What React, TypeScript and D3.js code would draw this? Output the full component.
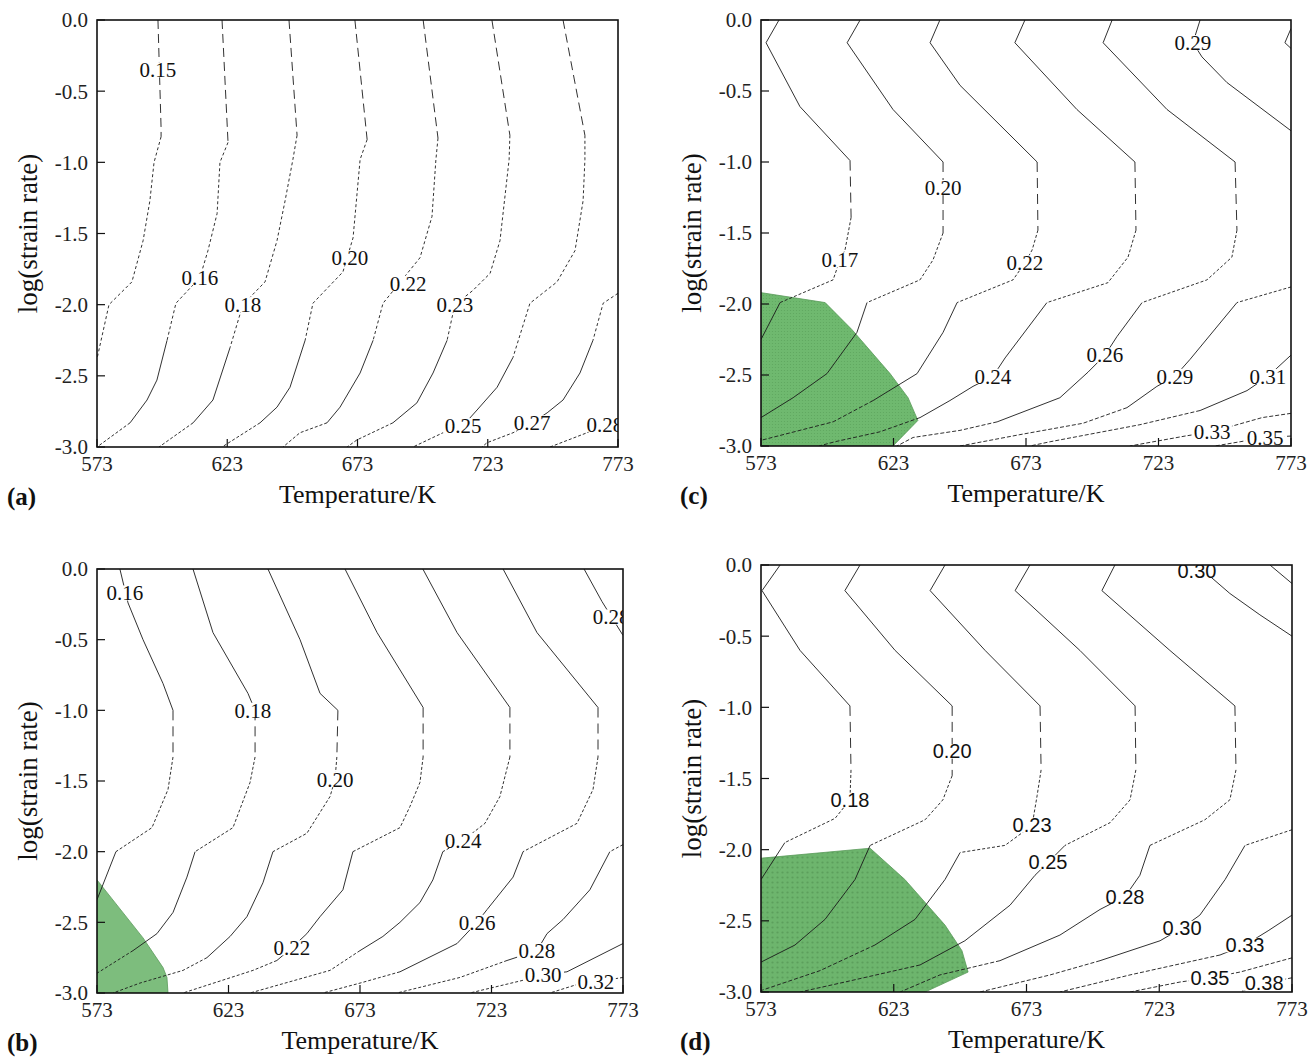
import React from 'react';
import * as d3 from 'd3';

type Pt = [number, number];
type Contour = { level: string; pts: Pt[]; at?: Pt };

// axes: temperature (K) and log(strain rate)
const TEMP_TICKS = [573, 623, 673, 723, 773];
const RATE_TICKS = [0, -0.5, -1, -1.5, -2, -2.5, -3];

// contour lines, [T, log(strain rate)]
const CONTOURS_A: Contour[] = [
  { level: '0.15', at: [596.4, -0.35], pts: [[596.4, 0], [597.6, -0.76], [597.6, -0.82], [594.9, -1.0], [593.3, -1.27], [590.7, -1.55], [586.4, -1.84], [577.6, -2.0], [573, -2.38]] },
  { level: '0.16', at: [612.5, -1.81], pts: [[621.0, 0], [623.3, -0.86], [620.2, -1.0], [619.1, -1.36], [615.6, -1.62], [612.5, -1.81], [603.3, -1.99], [599.9, -2.25], [596.0, -2.53], [592.2, -2.67], [585.7, -2.83], [573, -3.0]] },
  { level: '0.18', at: [629.0, -2.0], pts: [[646.7, 0], [649.8, -0.81], [648.2, -0.98], [645.2, -1.27], [642.1, -1.55], [637.5, -1.84], [629.0, -2.0], [624.1, -2.3], [617.5, -2.67], [609.9, -2.83], [596.8, -3.0]] },
  { level: '0.20', at: [670.1, -1.67], pts: [[672.0, 0], [676.7, -0.84], [674.0, -0.98], [671.3, -1.53], [667.4, -1.77], [655.9, -1.99], [652.9, -2.25], [647.1, -2.58], [642.1, -2.72], [635.6, -2.83], [621.0, -3.0]] },
  { level: '0.22', at: [692.4, -1.85], pts: [[698.2, 0], [703.9, -0.83], [703.1, -0.98], [701.6, -1.38], [697.0, -1.67], [682.8, -1.99], [679.0, -2.25], [674.0, -2.48], [666.3, -2.72], [661.3, -2.83], [650.9, -2.9], [644.4, -3.0]] },
  { level: '0.23', at: [710.4, -2.0], pts: [[724.6, 0], [731.5, -0.81], [731.2, -0.98], [727.7, -1.55], [723.9, -1.78], [717.3, -1.9], [710.4, -2.0], [709.3, -2.09], [707.4, -2.25], [702.0, -2.48], [695.8, -2.69], [686.6, -2.83], [672.8, -2.95], [669.0, -3.0]] },
  { level: '0.25', at: [713.5, -2.85], pts: [[751.9, 0], [760.3, -0.81], [760.3, -0.98], [759.6, -1.27], [756.5, -1.62], [749.6, -1.84], [739.2, -1.99], [732.7, -2.37], [726.6, -2.58], [718.9, -2.74], [713.5, -2.85], [705.8, -2.9], [694.3, -3.0]] },
  { level: '0.27', at: [740.0, -2.83], pts: [[773, -1.92], [767.3, -1.99], [763.4, -2.25], [758.4, -2.48], [751.9, -2.67], [745.8, -2.76], [740.0, -2.83], [732.7, -2.9], [722.7, -2.97], [720.8, -3.0]] },
  { level: '0.28', at: [768.0, -2.84], pts: [[773, -2.86], [766.9, -2.84], [761.1, -2.9], [746.9, -3.0]] },
];

const CONTOURS_B: Contour[] = [
  { level: '0.16', at: [583.6, -0.17], pts: [[581.7, 0], [584.8, -0.24], [590.5, -0.5], [598.1, -0.81], [601.9, -1.0], [601.9, -1.33], [600.0, -1.56], [593.9, -1.83], [580.2, -2.0], [573, -2.34]] },
  { level: '0.18', at: [632.3, -1.0], pts: [[609.5, 0], [617.1, -0.45], [630.4, -0.88], [633.1, -1.0], [633.1, -1.33], [631.2, -1.51], [624.7, -1.83], [610.3, -2.0], [607.2, -2.18], [601.9, -2.43], [595.8, -2.58], [586.7, -2.7], [573, -2.86]] },
  { level: '0.20', at: [663.5, -1.49], pts: [[638.0, 0], [650.2, -0.5], [657.8, -0.88], [664.6, -1.0], [664.2, -1.33], [663.5, -1.49], [661.6, -1.61], [652.8, -1.87], [639.9, -2.0], [636.1, -2.22], [630.0, -2.46], [623.6, -2.6], [614.8, -2.75], [605.7, -2.84], [589.3, -2.93], [579.1, -3.0]] },
  { level: '0.22', at: [647.1, -2.68], pts: [[667.3, 0], [679.5, -0.45], [697.0, -0.98], [697.0, -1.33], [695.8, -1.51], [692.0, -1.68], [688.2, -1.83], [670.3, -2.0], [666.5, -2.27], [657.8, -2.46], [652.8, -2.58], [647.1, -2.68], [641.4, -2.77], [632.3, -2.84], [605.7, -3.0]] },
  { level: '0.24', at: [712.2, -1.92], pts: [[696.9, 0], [709.9, -0.45], [730.0, -0.98], [730.0, -1.33], [726.2, -1.61], [720.5, -1.8], [712.2, -1.92], [704.5, -2.0], [700.7, -2.2], [695.8, -2.36], [688.2, -2.5], [681.7, -2.6], [673.0, -2.7], [661.6, -2.84], [631.2, -3.0]] },
  { level: '0.26', at: [717.5, -2.5], pts: [[727.4, 0], [740.3, -0.45], [763.5, -0.98], [763.5, -1.33], [761.6, -1.56], [755.5, -1.8], [735.0, -2.0], [731.2, -2.18], [721.3, -2.41], [717.5, -2.5], [709.9, -2.65], [688.2, -2.85], [673.0, -2.93], [658.9, -3.0]] },
  { level: '0.28', at: [768.5, -0.34], pts: [[758.2, 0], [765.0, -0.23], [773, -0.47]] },
  { level: '0.28', at: [740.3, -2.7], pts: [[773, -1.95], [768.0, -2.0], [760.4, -2.27], [750.2, -2.48], [744.1, -2.58], [740.3, -2.7], [728.9, -2.77], [711.0, -2.89], [687.1, -3.0]] },
  { level: '0.30', at: [742.6, -2.87], pts: [[773, -2.65], [751.7, -2.85], [742.6, -2.87], [735.0, -2.91], [714.8, -3.0]] },
  { level: '0.32', at: [762.7, -2.92], pts: [[773, -2.89], [762.7, -2.92], [755.5, -2.94], [745.2, -3.0]] },
];

const CONTOURS_C: Contour[] = [
  { level: '0.17', at: [602.8, -1.69], pts: [[579.8, 0], [574.9, -0.16], [587.7, -0.61], [606.6, -0.99], [607.0, -1.39], [604.7, -1.62], [602.8, -1.69], [600.2, -1.83], [580.2, -1.99], [573, -2.25]] },
  { level: '0.20', at: [641.7, -1.18], pts: [[610.4, 0], [605.5, -0.16], [622.8, -0.63], [641.7, -1.0], [641.7, -1.5], [637.9, -1.69], [633.0, -1.83], [613.0, -1.99], [609.2, -2.2], [597.9, -2.49], [585.1, -2.66], [573, -2.8]] },
  { level: '0.22', at: [672.6, -1.71], pts: [[640.5, 0], [636.8, -0.16], [648.1, -0.46], [677.2, -1.0], [677.5, -1.48], [675.3, -1.62], [672.6, -1.71], [668.1, -1.83], [647.0, -1.99], [641.7, -2.2], [631.9, -2.49], [615.3, -2.68], [600.2, -2.83], [573, -2.96]] },
  { level: '0.24', at: [660.5, -2.51], pts: [[672.6, 0], [668.8, -0.16], [692.2, -0.63], [714.1, -1.0], [714.5, -1.48], [711.5, -1.67], [703.9, -1.85], [680.9, -1.99], [665.1, -2.38], [660.5, -2.51], [653.0, -2.58], [644.3, -2.68], [633.0, -2.8], [617.9, -2.9], [600.9, -2.97], [594.9, -3.0]] },
  { level: '0.26', at: [702.8, -2.36], pts: [[705.5, 0], [702.1, -0.16], [726.2, -0.63], [751.9, -1.0], [752.6, -1.48], [750.7, -1.67], [741.3, -1.83], [716.8, -1.99], [707.3, -2.23], [702.8, -2.36], [696.4, -2.48], [685.8, -2.66], [662.1, -2.83], [648.1, -2.89], [630.4, -2.94], [624.3, -3.0]] },
  { level: '0.29', at: [736.0, -0.16], pts: [[738.7, 0], [736.0, -0.16], [739.4, -0.26], [748.8, -0.44], [773, -0.78]] },
  { level: '0.31', pts: [[773, -0.06], [770.7, -0.16], [773, -0.2]] },
  { level: '0.29', at: [729.2, -2.51], pts: [[773, -1.88], [752.6, -1.99], [734.9, -2.39], [729.2, -2.51], [722.4, -2.58], [711.1, -2.73], [694.5, -2.84], [670.7, -2.92], [648.1, -3.0]] },
  { level: '0.31', at: [764.3, -2.51], pts: [[773, -2.36], [764.3, -2.51], [756.4, -2.61], [738.7, -2.75], [716.0, -2.85], [682.1, -2.97], [674.5, -3.0]] },
  { level: '0.33', at: [743.2, -2.9], pts: [[773, -2.77], [762.1, -2.8], [743.2, -2.9], [733.0, -2.93], [712.2, -3.0]] },
  { level: '0.35', at: [763.2, -2.94], pts: [[773, -2.93], [763.2, -2.94], [753.8, -2.97], [744.3, -3.0]] },
];

const CONTOURS_D: Contour[] = [
  { level: '0.18', at: [606.5, -1.65], pts: [[580.2, 0], [573.4, -0.18], [587.7, -0.6], [606.5, -0.99], [606.9, -1.44], [606.5, -1.65], [600.9, -1.78], [582.0, -1.95], [573, -2.21]] },
  { level: '0.20', at: [645.0, -1.31], pts: [[610.3, 0], [604.6, -0.18], [623.5, -0.6], [645.0, -0.99], [645.0, -1.48], [641.5, -1.65], [634.8, -1.79], [614.1, -1.97], [608.4, -2.21], [597.1, -2.49], [585.8, -2.67], [573, -2.79]] },
  { level: '0.23', at: [675.1, -1.83], pts: [[642.3, 0], [636.7, -0.18], [657.4, -0.6], [678.1, -0.99], [678.5, -1.44], [677.0, -1.62], [675.1, -1.83], [664.9, -1.97], [648.0, -2.02], [642.3, -2.21], [631.0, -2.49], [615.9, -2.67], [595.2, -2.85], [573, -2.99]] },
  { level: '0.25', at: [681.1, -2.09], pts: [[674.3, 0], [668.7, -0.18], [693.1, -0.6], [713.9, -0.99], [714.2, -1.44], [712.0, -1.65], [704.5, -1.81], [687.5, -1.97], [681.1, -2.09], [676.2, -2.18], [666.8, -2.39], [649.8, -2.64], [632.9, -2.81], [604.6, -2.93], [587.7, -3.0]] },
  { level: '0.28', at: [710.1, -2.33], pts: [[706.3, 0], [701.4, -0.18], [727.0, -0.6], [751.5, -0.99], [751.9, -1.44], [749.6, -1.65], [740.2, -1.79], [719.5, -1.97], [715.7, -2.18], [710.1, -2.33], [700.7, -2.42], [685.6, -2.6], [663.0, -2.78], [640.4, -2.88], [625.4, -3.0]] },
  { level: '0.30', at: [737.2, -0.04], pts: [[737.2, 0], [749.6, -0.2], [760.9, -0.35], [773, -0.5]] },
  { level: '0.33', pts: [[764.7, 0], [773, -0.13]] },
  { level: '0.30', at: [731.6, -2.55], pts: [[773, -1.86], [755.3, -1.97], [747.8, -2.21], [738.3, -2.46], [731.6, -2.55], [723.3, -2.64], [700.7, -2.78], [681.9, -2.88], [655.5, -3.0]] },
  { level: '0.33', at: [755.3, -2.67], pts: [[773, -2.46], [764.0, -2.57], [755.3, -2.67], [745.9, -2.74], [712.0, -2.88], [685.6, -3.0]] },
  { level: '0.35', at: [742.1, -2.9], pts: [[773, -2.76], [753.4, -2.86], [742.1, -2.9], [730.8, -2.93], [712.0, -3.0]] },
  { level: '0.38', at: [762.5, -2.94], pts: [[773, -2.9], [762.5, -2.94], [753.4, -3.0]] },
];

// instability domains (green)
const REGION_B: Pt[] = [[573, -2.2], [590.5, -2.61], [598.1, -2.82], [599.6, -2.89], [600.0, -3.0], [573, -3.0]];
const REGION_C: Pt[] = [[573, -1.92], [597.2, -1.99], [607.3, -2.18], [621.7, -2.49], [628.5, -2.66], [632.2, -2.82], [622.8, -3.0], [573, -3.0]];
const REGION_D: Pt[] = [[573, -2.06], [614.1, -1.99], [627.2, -2.21], [642.3, -2.53], [648.7, -2.71], [651.0, -2.86], [634.8, -3.0], [573, -3.0]];

const SERIF = '"Liberation Serif", "Times New Roman", serif';
const SANS = '"Liberation Sans", Arial, sans-serif';

type Band = { min: number; dash: string };
const BANDS_A: Band[] = [
  { min: -0.8, dash: '9,5' },
  { min: -2.3, dash: '3,2.5' },
  { min: -2.8, dash: 'none' },
  { min: -Infinity, dash: '3,2' },
];
const BANDS_C: Band[] = [
  { min: -0.99, dash: 'none' },
  { min: -1.5, dash: '10,6' },
  { min: -2.0, dash: '3,2' },
  { min: -2.75, dash: 'none' },
  { min: -Infinity, dash: '4,2' },
];
const BANDS_B: Band[] = [
  { min: -0.99, dash: 'none' },
  { min: -1.33, dash: '10,6' },
  { min: -2.0, dash: '3,2' },
  { min: -2.75, dash: 'none' },
  { min: -Infinity, dash: '3,2' },
];

const PANELS = [
  { key: 'a', tag: '(a)', tagX: 7, box: [97, 618, 20, 447], contours: CONTOURS_A, region: null as Pt[] | null, fill: '', bands: BANDS_A, font: SERIF, size: 21 },
  { key: 'b', tag: '(b)', tagX: 7, box: [97, 623, 569, 993], contours: CONTOURS_B, region: REGION_B, fill: '#7dbd7d', bands: BANDS_B, font: SERIF, size: 21 },
  { key: 'c', tag: '(c)', tagX: 680, box: [761, 1291, 20, 446], contours: CONTOURS_C, region: REGION_C, fill: 'url(#dots-c)', bands: BANDS_C, font: SERIF, size: 21 },
  { key: 'd', tag: '(d)', tagX: 680, box: [761, 1292, 565, 992], contours: CONTOURS_D, region: REGION_D, fill: 'url(#dots-d)', bands: BANDS_C, font: SANS, size: 20 },
];

// split a polyline into runs sharing one dash style
function runs(pts: Pt[], bands: Band[]) {
  const out: { dash: string; pts: Pt[] }[] = [];
  for (let i = 0; i < pts.length - 1; i++) {
    const mid = (pts[i][1] + pts[i + 1][1]) / 2;
    const dash = bands.find(b => mid >= b.min)!.dash;
    const last = out[out.length - 1];
    if (last && last.dash === dash) last.pts.push(pts[i + 1]);
    else out.push({ dash, pts: [pts[i], pts[i + 1]] });
  }
  return out;
}

function Panel({ p }: { p: (typeof PANELS)[number] }) {
  const [x0, x1, y0, y1] = p.box;
  const x = d3.scaleLinear().domain([573, 773]).range([x0, x1]);
  const y = d3.scaleLinear().domain([0, -3]).range([y0, y1]);
  const line = d3.line<Pt>().x(d => x(d[0])).y(d => y(d[1]));
  const clip = `clip-${p.key}`;
  const charW = p.font === SANS ? 0.556 : 0.5;

  return (
    <g>
      <clipPath id={clip}>
        <rect x={x0} y={y0} width={x1 - x0} height={y1 - y0} />
      </clipPath>
      <g clipPath={`url(#${clip})`}>
        {p.region && (
          <path d={line(p.region)! + 'Z'} fill={p.fill} stroke="#5b9a5b" strokeWidth={0.8} />
        )}
        {p.contours.map((c, i) =>
          runs(c.pts, p.bands).map((r, j) => (
            <path key={`${i}-${j}`} d={line(r.pts)!} fill="none" stroke="#1a1a1a"
              strokeWidth={0.9} strokeDasharray={r.dash} />
          ))
        )}
        {p.contours.filter(c => c.at).map((c, i) => {
          const w = c.level.length * p.size * charW - p.size * 0.2;
          const cx = x(c.at![0]);
          const cy = y(c.at![1]);
          return (
            <g key={`l${i}`}>
              <rect x={cx - w / 2 - 1} y={cy - p.size * 0.36} width={w + 2} height={p.size * 0.72} fill="#fff" />
              <text x={cx} y={cy} dy="0.35em" textAnchor="middle" fontFamily={p.font}
                fontSize={p.size} fill="#111">{c.level}</text>
            </g>
          );
        })}
      </g>
      <rect x={x0} y={y0} width={x1 - x0} height={y1 - y0} fill="none" stroke="#111" strokeWidth={1.6} />
      {TEMP_TICKS.map(t => (
        <g key={`t${t}`}>
          <line x1={x(t)} x2={x(t)} y1={y1} y2={y1 - 8} stroke="#111" strokeWidth={1.2} />
          <text x={x(t)} y={y1 + 24} textAnchor="middle" fontFamily={SERIF} fontSize={21} fill="#222">{t}</text>
        </g>
      ))}
      {RATE_TICKS.map(v => (
        <g key={`r${v}`}>
          <line x1={x0} x2={x0 + 8} y1={y(v)} y2={y(v)} stroke="#111" strokeWidth={1.2} />
          <text x={x0 - 9} y={y(v)} dy="0.35em" textAnchor="end" fontFamily={SERIF} fontSize={21} fill="#222">{v.toFixed(1)}</text>
        </g>
      ))}
      <text x={(x0 + x1) / 2} y={y1 + 56} textAnchor="middle" fontFamily={SERIF} fontSize={26} fill="#111">Temperature/K</text>
      <text transform={`translate(${x0 - 69},${(y0 + y1) / 2}) rotate(-90)`} dy="0.35em" textAnchor="middle"
        fontFamily={SERIF} fontSize={27} fill="#111">log(strain rate)</text>
      <text x={p.tagX} y={y1 + 58} fontFamily={SERIF} fontSize={25} fontWeight="bold" fill="#111">{p.tag}</text>
    </g>
  );
}

export default function App() {
  return (
    <div style={{ position: 'absolute', left: 0, top: 0 }}>
      <svg width={1316} height={1059} style={{ display: 'block', background: '#fff' }}>
        <defs>
          <pattern id="dots-c" width={3} height={3} patternUnits="userSpaceOnUse">
            <rect width={3} height={3} fill="#6fb96f" />
            <circle cx={1.5} cy={1.5} r={0.6} fill="#5fa65f" />
          </pattern>
          <pattern id="dots-d" width={5} height={5} patternUnits="userSpaceOnUse">
            <rect width={5} height={5} fill="#6db56d" />
            <circle cx={2.5} cy={2.5} r={1.1} fill="#5c9f5c" />
          </pattern>
        </defs>
        {PANELS.map(p => <Panel key={p.key} p={p} />)}
      </svg>
    </div>
  );
}
